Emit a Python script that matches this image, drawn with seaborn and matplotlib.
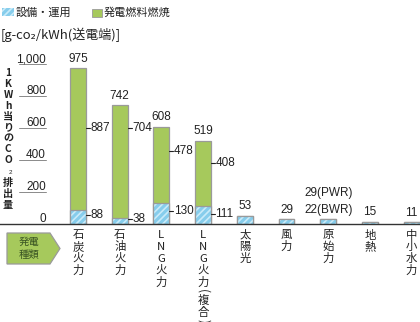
import matplotlib
matplotlib.use("Agg")
import matplotlib.pyplot as plt
from matplotlib import font_manager
from matplotlib.patches import Rectangle, Polygon
import seaborn as sns
import pandas as pd

# --- data -------------------------------------------------------------
categories = ["石炭火力", "石油火力", "LNG火力", "LNG火力(複合)", "太陽光",
              "風力", "原始力", "地熱", "中小水力"]
equipment = [88, 38, 130, 111, 53, 29, 29, 15, 11]      # 設備・運用
fuel = [887, 704, 478, 408, 0, 0, 0, 0, 0]               # 発電燃料燃焼
nuclear_labels = ["29(PWR)", "22(BWR)"]
y_ticks = [0, 200, 400, 600, 800, 1000]
y_tick_labels = ["0", "200", "400", "600", "800", "1,000"]
legend_labels = ["設備・運用", "発電燃料燃焼"]
unit_label = "[g-co₂/kWh(送電端)]"
y_label_chars = ["1", "K", "W", "h", "当", "り", "の", "C", "O", "₂", "排", "出", "量"]
badge_lines = ["発電", "種類"]

totals = [e + f for e, f in zip(equipment, fuel)]

# heights at which the side value labels sit (layout)
fuel_label_y = [600, 600, 456, 381]
equip_label_y = [56, 31, 81, 62]

# --- style ------------------------------------------------------------
GREEN = "#a6c95c"
BLUE = "#86cdec"
HATCH = "#c9ebf9"
EDGE = "#9a9a9a"
INK = "#222222"

sns.set_theme(style="white")
available = {f.name for f in font_manager.fontManager.ttflist}
num_first = "Liberation Sans Narrow" if "Liberation Sans Narrow" in available else "Liberation Sans"
NUM_FONT = [num_first, "Noto Sans CJK JP", "DejaVu Sans"]
JP_FONT = ["Noto Sans CJK JP", "DejaVu Sans"]
plt.rcParams["font.family"] = JP_FONT
plt.rcParams["hatch.linewidth"] = 1.2

W, H = 420, 322
BASE = 224          # pixel row of the zero line
SCALE = 0.16        # pixels per g-CO2/kWh
YMAX = 1100
X0, STEP = 78, 41.7  # pixel centre of first bar, spacing between bars

fig = plt.figure(figsize=(W / 100, H / 100), dpi=100)
ax = fig.add_axes([0, (H - BASE) / H, 1, YMAX * SCALE / H])


def fx(x):
    return x / W


def fy(y):
    return 1 - y / H


df = pd.DataFrame({"category": categories, "total": totals, "equipment": equipment})

sns.barplot(data=df, x="category", y="total", color=GREEN, saturation=1,
            width=0.38, edgecolor=EDGE, linewidth=0.9, ax=ax)
n_green = len(ax.patches)
sns.barplot(data=df, x="category", y="equipment", color=BLUE, saturation=1,
            width=0.38, edgecolor=HATCH, linewidth=0, hatch="/////", ax=ax)
for p in list(ax.patches[n_green:]):
    ax.add_patch(Rectangle(p.get_xy(), p.get_width(), p.get_height(),
                           fill=False, edgecolor=EDGE, linewidth=0.9))

ax.set_xlim(-X0 / STEP, (W - X0) / STEP)
ax.set_ylim(0, YMAX)
ax.set_xlabel("")
ax.set_ylabel("")
ax.set_xticks([])
ax.set_yticks([])
for side in ("left", "top", "right"):
    ax.spines[side].set_visible(False)
ax.spines["bottom"].set_color("#333333")
ax.spines["bottom"].set_linewidth(1.0)

half = 0.19
dash = 4 / STEP

# totals above the stacked bars
for i in range(4):
    ax.annotate(f"{totals[i]}", (i, totals[i]), xytext=(0, 2.5),
                textcoords="offset points", ha="center", va="bottom",
                fontsize=8.5, family=NUM_FONT, color=INK)

# side labels for each segment
for i in range(4):
    for val, yy in ((fuel[i], fuel_label_y[i]), (equipment[i], equip_label_y[i])):
        xa = i + half
        ax.plot([xa, xa + dash], [yy, yy], color=INK, lw=0.8, clip_on=False)
        ax.text(xa + dash + 0.01, yy, f"{val}", ha="left", va="center",
                fontsize=8.5, family=NUM_FONT, color=INK)

# values above the small bars
for i in range(4, len(categories)):
    if categories[i] == "原始力":
        ax.annotate(nuclear_labels[1], (i, equipment[i]), xytext=(0, 2.5),
                    textcoords="offset points", ha="center", va="bottom",
                    fontsize=8.5, family=NUM_FONT, color=INK)
        ax.annotate(nuclear_labels[0], (i, equipment[i]), xytext=(0, 14.5),
                    textcoords="offset points", ha="center", va="bottom",
                    fontsize=8.5, family=NUM_FONT, color=INK)
    else:
        ax.annotate(f"{equipment[i]}", (i, equipment[i]), xytext=(0, 2.5),
                    textcoords="offset points", ha="center", va="bottom",
                    fontsize=8.5, family=NUM_FONT, color=INK)

# y tick labels with short underlines
for v, lab in zip(y_ticks, y_tick_labels):
    ax.annotate(lab, xy=(46 / W, v), xycoords=("axes fraction", "data"),
                xytext=(0, 1.2), textcoords="offset points",
                ha="right", va="baseline", fontsize=8.5, family=NUM_FONT,
                color=INK, annotation_clip=False)
    if v > 0:
        ax.plot([19 / W, 46 / W], [v, v], color="#8a8a8a", lw=0.7,
                transform=ax.get_yaxis_transform(), clip_on=False)

# vertical y-axis title, one glyph per row
yy = 73
for ch in y_label_chars:
    if ch == "₂":
        fig.text(fx(10.5), fy(yy + 1), "2", fontsize=4.5, ha="center",
                 va="center", color=INK, family=NUM_FONT)
        yy += 12.0
        continue
    fig.text(fx(8), fy(yy), ch, fontsize=7.3, ha="center", va="center",
             color=INK, weight="bold", family=JP_FONT)
    yy += 10.9

# vertical category labels
for i, cat in enumerate(categories):
    xc = X0 + STEP * i
    yy = 235
    prev = None
    for ch in cat:
        if prev is not None:
            yy += 9 if (ch in "()" or prev in "()") else 11.8
        if ch in "()":
            fig.text(fx(xc), fy(yy), ch, fontsize=8.5, ha="center", va="center",
                     rotation=-90, color=INK, family=JP_FONT)
        else:
            fig.text(fx(xc), fy(yy), ch, fontsize=8.2, ha="center", va="center",
                     color=INK, family=JP_FONT)
        prev = ch

# badge on the left of the category labels
badge = Polygon([(fx(7), fy(233)), (fx(50), fy(233)), (fx(60), fy(248.5)),
                 (fx(50), fy(264)), (fx(7), fy(264))], closed=True,
                transform=fig.transFigure, facecolor=GREEN, edgecolor=EDGE,
                linewidth=0.9)
fig.add_artist(badge)
fig.text(fx(29), fy(241.5), badge_lines[0], fontsize=7.5, ha="center",
         va="center", color="#3b5624", family=JP_FONT)
fig.text(fx(29), fy(255), badge_lines[1], fontsize=7.5, ha="center",
         va="center", color="#3b5624", family=JP_FONT)

# legend
fig.add_artist(Rectangle((fx(2), fy(16)), 12 / W, 8 / H, transform=fig.transFigure,
                         facecolor=BLUE, edgecolor=HATCH, linewidth=0, hatch="/////"))
fig.add_artist(Rectangle((fx(92), fy(17)), 10 / W, 8 / H, transform=fig.transFigure,
                         facecolor=GREEN, edgecolor=EDGE, linewidth=0.6))
fig.text(fx(16), fy(12.5), legend_labels[0], fontsize=8, ha="left", va="center",
         color=INK, family=JP_FONT)
fig.text(fx(104), fy(12.5), legend_labels[1], fontsize=8, ha="left", va="center",
         color=INK, family=JP_FONT)

# unit
fig.text(fx(1), fy(35), unit_label, fontsize=9.4, ha="left", va="center",
         color=INK, family=JP_FONT)

fig.savefig("out.png", dpi=100)
